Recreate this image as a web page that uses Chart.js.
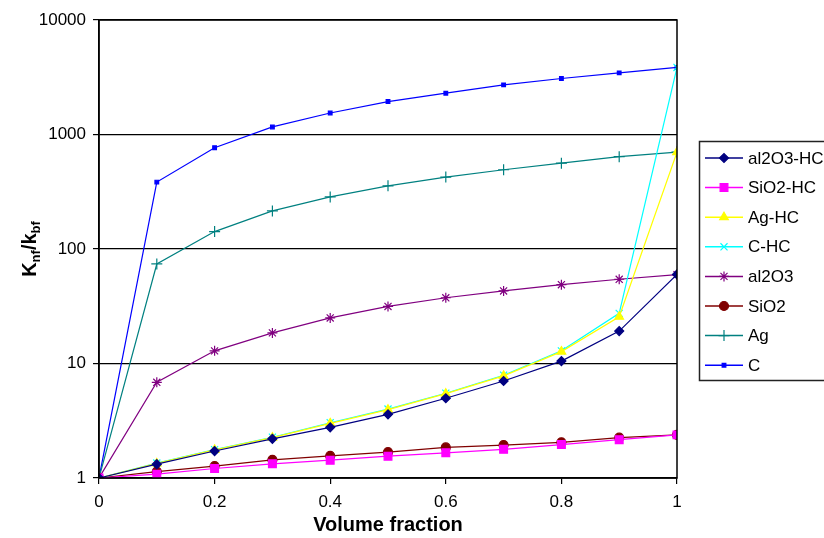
<!DOCTYPE html>
<html>
<head>
<meta charset="UTF-8">
<title>Knf/kbf vs volume fraction</title>
<script src="https://cdn.jsdelivr.net/npm/chart.js"></script>
<style>
  html, body { margin: 0; padding: 0; background: #fff; }
  #wrap { width: 824px; height: 538px; position: relative; }
</style>
</head>
<body>
<div id="wrap"><canvas id="chart"></canvas></div>
<script>
// x values (volume fraction) and axis ticks
const volumeFraction = [0, 0.1, 0.2, 0.3, 0.4, 0.5, 0.6, 0.7, 0.8, 0.9, 1];
const xTicks = [0, 0.2, 0.4, 0.6, 0.8, 1];
const yTicks = [1, 10, 100, 1000, 10000];

// series values (Knf/kbf)
const al2O3HC = [1, 1.32, 1.72, 2.2, 2.77, 3.6, 4.97, 7.03, 10.5, 19.2, 60];
const sio2HC  = [1, 1.08, 1.21, 1.33, 1.43, 1.55, 1.66, 1.78, 1.96, 2.16, 2.38];
const agHC    = [1, 1.34, 1.76, 2.25, 3.0, 3.95, 5.45, 7.8, 12.7, 25.6, 700];
const cHC     = [1, 1.35, 1.77, 2.27, 3.04, 4.0, 5.5, 7.9, 12.9, 27.4, 3850];
const al2O3   = [1, 6.85, 12.9, 18.5, 25, 31.5, 37.5, 43, 48.8, 54.4, 59.7];
const sio2    = [1, 1.135, 1.27, 1.44, 1.56, 1.68, 1.85, 1.94, 2.05, 2.25, 2.38];
const ag      = [1, 74, 142, 215, 285, 356, 425, 492, 562, 640, 703];
const carbon  = [1, 384, 767, 1164, 1542, 1940, 2295, 2715, 3085, 3456, 3850];

const seriesNames = ['al2O3-HC', 'SiO2-HC', 'Ag-HC', 'C-HC', 'al2O3', 'SiO2', 'Ag', 'C'];

function pts(arr) {
    return volumeFraction.map((x, i) => ({ x: x, y: arr[i] }));
}

function series(label, arr, color, style, radius) {
    return {
        label: label,
        data: pts(arr),
        borderColor: color,
        backgroundColor: color,
        borderWidth: 1.2,
        pointStyle: style,
        pointRadius: radius,
        pointHoverRadius: radius,
        pointBorderWidth: 1.2,
        tension: 0
    };
}

const datasets = [
    series(seriesNames[0], al2O3HC, '#000080', 'rectRot', 4.5),
    series(seriesNames[1], sio2HC, '#ff00ff', 'rect', 5.5),
    series(seriesNames[2], agHC, '#ffff00', 'triangle', 5),
    series(seriesNames[3], cHC, '#00ffff', 'crossRot', 5),
    series(seriesNames[4], al2O3, '#800080', 'star', 5),
    series(seriesNames[5], sio2, '#800000', 'circle', 4.5),
    series(seriesNames[6], ag, '#008080', 'cross', 5.5),
    series(seriesNames[7], carbon, '#0000ff', 'rect', 2.6)
];

// border round the plot area + y title with subscripts + boxed legend
const extras = {
    id: 'extras',
    afterDraw(chart) {
        const ctx = chart.ctx;
        const a = chart.chartArea;
        ctx.save();
        ctx.strokeStyle = '#000';
        ctx.lineWidth = 1.5;
        ctx.strokeRect(a.left, a.top, a.right - a.left, a.bottom - a.top);

        // y axis title: K_nf / k_bf
        ctx.translate(29, (a.top + a.bottom) / 2);
        ctx.rotate(-Math.PI / 2);
        ctx.fillStyle = '#000';
        ctx.textBaseline = 'alphabetic';
        const big = 'bold 20px "Liberation Sans", Arial, sans-serif';
        const small = 'bold 13px "Liberation Sans", Arial, sans-serif';
        const parts = [['K', big, 0], ['nf', small, 4], ['/k', big, 0], ['bf', small, 4]];
        let w = 0;
        parts.forEach(p => { ctx.font = p[1]; w += ctx.measureText(p[0]).width; });
        let x = -w / 2;
        parts.forEach(p => {
            ctx.font = p[1];
            ctx.fillText(p[0], x, 7 + p[2]);
            x += ctx.measureText(p[0]).width;
        });
        ctx.restore();

        // legend
        ctx.save();
        ctx.strokeStyle = '#222';
        ctx.lineWidth = 1.5;
        ctx.strokeRect(699.5, 141.5, 140, 239);
        ctx.font = '17px "Liberation Sans", Arial, sans-serif';
        ctx.textBaseline = 'middle';
        chart.data.datasets.forEach((ds, i) => {
            const y = 158 + i * 29.6;
            ctx.strokeStyle = ds.borderColor;
            ctx.fillStyle = ds.backgroundColor;
            ctx.lineWidth = 1.5;
            ctx.beginPath();
            ctx.moveTo(705, y);
            ctx.lineTo(743, y);
            ctx.stroke();
            ctx.lineWidth = 1.2;
            Chart.helpers.drawPoint(ctx, {
                pointStyle: ds.pointStyle,
                rotation: 0,
                radius: ds.pointRadius,
                borderWidth: 1.2
            }, 724, y);
            ctx.fillStyle = '#000';
            ctx.fillText(ds.label, 748, y + 1);
        });
        ctx.restore();
    }
};

const tickFont = { family: '"Liberation Sans", Arial, sans-serif', size: 17 };

new Chart(document.getElementById('chart'), {
    type: 'line',
    data: { datasets: datasets },
    options: {
        responsive: true,
        maintainAspectRatio: false,
        animation: false,
        layout: { padding: { top: 20, right: 147, left: 0, bottom: 0 } },
        plugins: { legend: { display: false }, tooltip: { enabled: false } },
        scales: {
            x: {
                type: 'linear',
                min: 0,
                max: 1,
                afterBuildTicks: axis => { axis.ticks = xTicks.map(v => ({ value: v })); },
                afterFit: axis => { axis.height = 60; },
                ticks: {
                    font: tickFont,
                    color: '#000',
                    padding: 8,
                    maxRotation: 0,
                    callback: v => String(Math.round(v * 10) / 10)
                },
                grid: { display: true, drawOnChartArea: false, color: '#000', tickLength: 6, lineWidth: 1.2 },
                border: { color: '#000', width: 1.5 },
                title: {
                    display: true,
                    text: 'Volume fraction',
                    color: '#000',
                    font: { family: '"Liberation Sans", Arial, sans-serif', size: 20, weight: 'bold' },
                    padding: { top: 0, bottom: 1 }
                }
            },
            y: {
                type: 'logarithmic',
                min: 1,
                max: 10000,
                afterBuildTicks: axis => { axis.ticks = yTicks.map(v => ({ value: v })); },
                afterFit: axis => { axis.width = 99; },
                ticks: {
                    font: tickFont,
                    color: '#000',
                    padding: 7,
                    callback: v => String(v)
                },
                grid: { color: '#000', tickLength: 6, lineWidth: 1.2 },
                border: { color: '#000', width: 1.5 }
            }
        }
    },
    plugins: [extras]
});
</script>
</body>
</html>
